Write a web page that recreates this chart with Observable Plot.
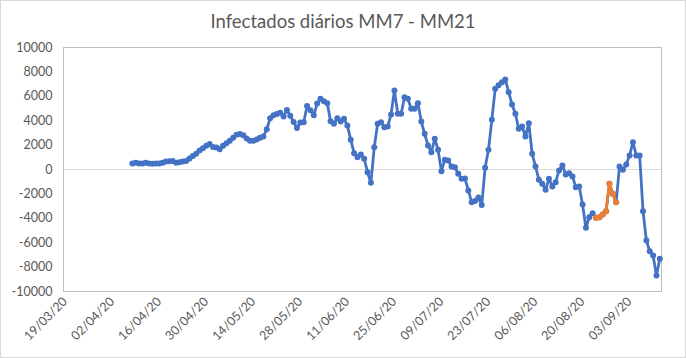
<!DOCTYPE html>
<html><head><meta charset="utf-8">
<script src="https://cdn.jsdelivr.net/npm/d3@7"></script>
<script src="https://cdn.jsdelivr.net/npm/@observablehq/plot@0.6"></script>
<style>
body{margin:0;background:#fff;}
#chart{position:relative;width:686px;height:358px;overflow:hidden;background:#fff;}
#title{position:absolute;left:0;top:9px;width:686px;text-align:center;font-family:Lato,sans-serif;font-size:18.5px;color:#595959;line-height:24px;}
#plot{position:absolute;left:0;top:36px;}
#border{position:absolute;left:0;top:0;width:686px;height:358px;box-sizing:border-box;border:1px solid #d9d9d9;pointer-events:none;}
</style></head><body>
<div id="chart"><div id="title">Infectados diários MM7 - MM21</div><div id="plot"></div><div id="border"></div></div>
<script>
// Axis range (first and last category of the date axis)
const axisStart = "2020-03-19";
const axisEnd = "2020-09-12";

// Blue series: daily values starting on firstDay
const firstDay = "2020-04-08";
const blueValues = [
  500, 550, 500, 500, 550, 500, 480, 500, 500, 550,
  650, 680, 700, 550, 600, 650, 700, 900, 1100, 1300,
  1550, 1750, 1950, 2100, 1850, 1800, 1650, 1950, 2150, 2350,
  2600, 2850, 2920, 2800, 2550, 2350, 2350, 2450, 2600, 2700,
  3300, 4200, 4450, 4550, 4650, 4350, 4880, 4400, 3900, 3400,
  3850, 3880, 5200, 4850, 4450, 5400, 5800, 5600, 5430, 3960,
  3750, 4200, 3930, 4150, 3600, 2430, 1340, 1010, 1230, 880,
  -220, -1090, 1830, 3750, 3880, 3470, 3520, 4510, 6480, 4570,
  4570, 5930, 5800, 4980, 4980, 5430, 3930, 2930, 1970, 1420,
  2520, 1610, -140, 800, 740, 250, 190, -350, -760, -730,
  -1720, -2680, -2580, -2300, -2900, 140, 1610, 4070, 6610, 6900,
  7150, 7380, 6340, 5330, 4570, 3340, 3520, 2700, 3800, 1290,
  250, -840, -1170, -1660, -760, -1390, -1040, -80, 330, -410,
  -300, -570, -1450, -1390, -2870, -4780, -3910, -3580, -3960, -3910,
  -3690, -3420, -1170, -1990, -2680, 250, -30, 410, 1150, 2240,
  1150, 1150, -3420, -5820, -6700, -7050, -8690, -7320
];

// Orange series: daily values starting on orangeStart
const orangeStart = "2020-08-24";
const orangeValues = [-3960, -3910, -3690, -3420, -1170, -1990, -2680];

// Tick labels
const xTickLabels = ["19/03/20","02/04/20","16/04/20","30/04/20","14/05/20","28/05/20","11/06/20","25/06/20","09/07/20","23/07/20","06/08/20","20/08/20","03/09/20"];
const yTickValues = [-10000,-8000,-6000,-4000,-2000,0,2000,4000,6000,8000,10000];

const DAY = 864e5;
const parseISO = s => new Date(s + "T00:00:00Z");
const series = (start, vals) => vals.map((v, i) => ({date: new Date(parseISO(start).getTime() + i * DAY), value: v}));
const blue = series(firstDay, blueValues);
const orange = series(orangeStart, orangeValues);
const xTicks = xTickLabels.map(s => { const [d, m, y] = s.split("/").map(Number); return new Date(Date.UTC(2000 + y, m - 1, d)); });

const chart = Plot.plot({
  width: 686, height: 322,
  marginTop: 11, marginBottom: 67, marginLeft: 63, marginRight: 25,
  style: {fontFamily: "Lato, sans-serif", fontSize: "12.5px", color: "#595959", background: "transparent"},
  x: {type: "utc", domain: [new Date(parseISO(axisStart).getTime() - DAY / 2), new Date(parseISO(axisEnd).getTime() + DAY / 2)],
      ticks: xTicks, tickFormat: (d, i) => xTickLabels[i], tickRotate: -45, tickSize: 0, tickPadding: 8, label: null},
  y: {domain: [-10000, 10000], ticks: yTickValues, tickFormat: d => String(d), tickSize: 0, tickPadding: 11, label: null},
  marks: [
    Plot.ruleY([0], {stroke: "#d9d9d9", strokeWidth: 1}),
    Plot.frame({stroke: "#bfbfbf"}),
    Plot.line(blue, {x: "date", y: "value", stroke: "#4472C4", strokeWidth: 2.8}),
    Plot.dot(blue, {x: "date", y: "value", fill: "#4472C4", r: 3}),
    Plot.line(orange, {x: "date", y: "value", stroke: "#ED7D31", strokeWidth: 2.8}),
    Plot.dot(orange, {x: "date", y: "value", fill: "#ED7D31", r: 3})
  ]
});
document.getElementById("plot").appendChild(chart);
</script>
</body></html>
